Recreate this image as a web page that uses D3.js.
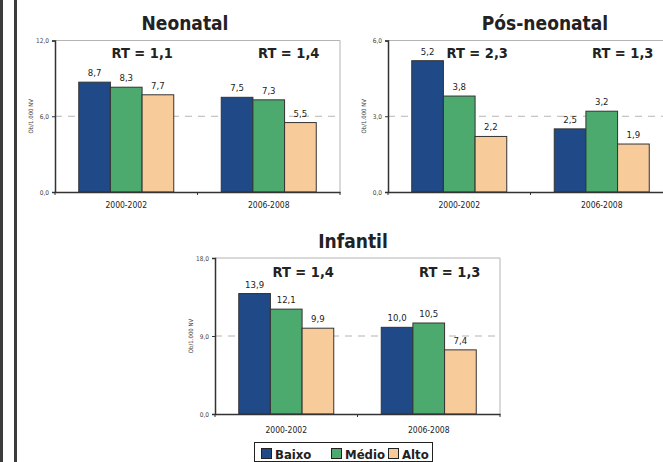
<!DOCTYPE html>
<html>
<head>
<meta charset="utf-8">
<script src="https://cdn.jsdelivr.net/npm/d3@7"></script>
<style>
  html, body { margin: 0; padding: 0; background: #fff; }
  svg { display: block; }
  text { font-family: "DejaVu Sans Condensed", "DejaVu Sans", sans-serif; }
</style>
</head>
<body>
<svg id="chart" width="663" height="462"></svg>
<script>
// Mortality rates (Ob/1.000 NV) by socioeconomic stratum, two periods
const categories = ["2000-2002", "2006-2008"];
const series = ["Baixo", "Médio", "Alto"];
const colors = ["#1f4a87", "#4caa6e", "#f8cb9b"];

const neonatal = [[8.7, 8.3, 7.7], [7.5, 7.3, 5.5]];
const posNeonatal = [[5.2, 3.8, 2.2], [2.5, 3.2, 1.9]];
const infantil = [[13.9, 12.1, 9.9], [10.0, 10.5, 7.4]];

const rtNeonatal = ["RT = 1,1", "RT = 1,4"];
const rtPosNeonatal = ["RT = 2,3", "RT = 1,3"];
const rtInfantil = ["RT = 1,4", "RT = 1,3"];

const ticksNeonatal = [0, 6, 12];
const ticksPosNeonatal = [0, 3, 6];
const ticksInfantil = [0, 9, 18];

const yTitle = "Ob/1.000 NV";
const fmt = v => d3.format(".1f")(v).replace(".", ",");

const svg = d3.select("#chart");

// page frame: two vertical rules on the left
[1.5, 15.5].forEach(x => {
  svg.append("line").attr("x1", x).attr("x2", x).attr("y1", 0).attr("y2", 462)
    .attr("stroke", "#3c3c3c").attr("stroke-width", 3);
});

const panels = [
  { title: "Neonatal", values: neonatal, rt: rtNeonatal, ticks: ticksNeonatal,
    x0: 55, x1: 340, y0: 40.5, y1: 192, titleX: 185, titleY: 30, rtDy: 17, rtDx: [16, 20], xPad: 10 },
  { title: "Pós-neonatal", values: posNeonatal, rt: rtPosNeonatal, ticks: ticksPosNeonatal,
    x0: 388, x1: 673, y0: 40.5, y1: 192, titleX: 545, titleY: 30, rtDy: 17, rtDx: [18, 21], xPad: 10 },
  { title: "Infantil", values: infantil, rt: rtInfantil, ticks: ticksInfantil,
    x0: 215, x1: 500, y0: 258, y1: 414, titleX: 353, titleY: 248, rtDy: 19, rtDx: [17, 21], xPad: 13 }
];

panels.forEach(p => {
  const g = svg.append("g");
  const x = d3.scaleBand().domain(categories).range([p.x0, p.x1])
    .paddingInner(1 / 3).paddingOuter(1 / 6);
  const xs = d3.scaleBand().domain(series).range([0, x.bandwidth()]);
  const y = d3.scaleLinear().domain([0, d3.max(p.ticks)]).range([p.y1, p.y0]);

  // plot frame (top / right)
  g.append("path")
    .attr("d", `M${p.x0},${p.y0}H${p.x1}V${p.y1}`)
    .attr("fill", "none").attr("stroke", "#b4b4b4").attr("stroke-width", 1);

  // dashed grid line at mid tick
  p.ticks.filter(t => t > 0 && t < d3.max(p.ticks)).forEach(t => {
    g.append("line").attr("x1", p.x0).attr("x2", p.x1)
      .attr("y1", y(t)).attr("y2", y(t))
      .attr("stroke", "#b4b4b4").attr("stroke-width", 1)
      .attr("stroke-dasharray", "7,6");
  });

  // bars
  categories.forEach((c, ci) => {
    series.forEach((s, si) => {
      const v = p.values[ci][si];
      g.append("rect")
        .attr("x", x(c) + xs(s)).attr("y", y(v))
        .attr("width", xs.bandwidth()).attr("height", y(0) - y(v))
        .attr("fill", colors[si]).attr("stroke", "#333").attr("stroke-width", 1);
      g.append("text")
        .attr("x", x(c) + xs(s) + xs.bandwidth() / 2).attr("y", y(v) - 6)
        .attr("text-anchor", "middle").attr("font-size", 9.5).attr("fill", "#222")
        .text(fmt(v));
    });
    g.append("text")
      .attr("x", x(c) + x.bandwidth() / 2 + p.rtDx[ci]).attr("y", p.y0 + p.rtDy)
      .attr("text-anchor", "middle").attr("font-size", 14.5).attr("font-weight", "bold")
      .attr("fill", "#222").text(p.rt[ci]);
  });

  // y axis
  const ya = g.append("g").attr("transform", `translate(${p.x0},0)`)
    .call(d3.axisLeft(y).tickValues(p.ticks).tickSize(3).tickFormat(fmt));
  ya.select(".domain").attr("stroke", "#333").attr("stroke-width", 1.5);
  ya.selectAll(".tick line").attr("stroke", "#333");
  ya.selectAll(".tick text").attr("font-size", 6.5).attr("fill", "#444")
    .attr("font-family", "\"DejaVu Sans Condensed\", \"DejaVu Sans\", sans-serif");

  // x axis
  const xa = g.append("g").attr("transform", `translate(0,${p.y1})`)
    .call(d3.axisBottom(x).tickSize(0).tickPadding(p.xPad));
  xa.select(".domain").attr("stroke", "#333").attr("stroke-width", 1.5);
  xa.selectAll(".tick text").attr("font-size", 8.5).attr("fill", "#222")
    .attr("font-family", "\"DejaVu Sans Condensed\", \"DejaVu Sans\", sans-serif");
  // category separator ticks
  [p.x0, x(categories[1]) - x.step() * x.paddingInner() / 2, p.x1].forEach(tx => {
    g.append("line").attr("x1", tx).attr("x2", tx).attr("y1", p.y1).attr("y2", p.y1 + 3)
      .attr("stroke", "#333");
  });

  // y axis title
  g.append("text")
    .attr("transform", `translate(${p.x0 - 22},${(p.y0 + p.y1) / 2}) rotate(-90)`)
    .attr("text-anchor", "middle").attr("font-size", 6).attr("fill", "#444")
    .text(yTitle);

  // panel title
  g.append("text").attr("x", p.titleX).attr("y", p.titleY)
    .attr("text-anchor", "middle").attr("font-size", 19).attr("font-weight", "bold")
    .attr("fill", "#222").text(p.title);
});

// legend
const lg = svg.append("g");
lg.append("rect").attr("x", 254.5).attr("y", 442.5).attr("width", 178).attr("height", 19)
  .attr("fill", "#fff").attr("stroke", "#222").attr("stroke-width", 1);
const legendX = [261, 331, 388];
series.forEach((s, i) => {
  lg.append("rect").attr("x", legendX[i] + 0.5).attr("y", 448.5).attr("width", 10).attr("height", 10)
    .attr("fill", colors[i]).attr("stroke", "#222").attr("stroke-width", 1);
  lg.append("text").attr("x", legendX[i] + 14).attr("y", 458.5)
    .attr("font-size", 13).attr("font-weight", "bold").attr("fill", "#222").text(s);
});
</script>
</body>
</html>
